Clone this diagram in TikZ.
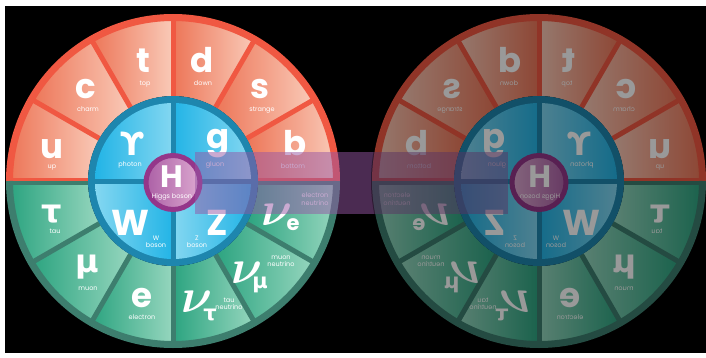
\RequirePackage{fix-cm}
\documentclass[tikz,border=0pt]{standalone}
\usepackage{fontspec}
\setmainfont{Poppins}
\newfontfamily\greekf{DejaVu Sans}
\usetikzlibrary{positioning}

\definecolor{quarkline}{RGB}{240,88,66}
\definecolor{quarkL}{RGB}{237,118,88}
\definecolor{quarkR}{RGB}{249,202,184}
\definecolor{leptonline}{RGB}{61,126,110}
\definecolor{leptonL}{RGB}{44,164,128}
\definecolor{leptonR}{RGB}{150,214,190}
\definecolor{bosonline}{RGB}{30,134,174}
\definecolor{bosonL}{RGB}{34,180,230}
\definecolor{bosonR}{RGB}{132,215,241}
\definecolor{higgsline}{RGB}{148,54,138}
\definecolor{higgsL}{RGB}{172,96,166}
\definecolor{higgsR}{RGB}{220,168,208}
\definecolor{barpurple}{RGB}{150,86,165}

\tikzset{
  quarkseg/.style={left color=quarkL, right color=quarkR},
  leptonseg/.style={left color=leptonL, right color=leptonR},
  bosonup/.style={left color=bosonL, right color=bosonR},
  bosondown/.style={left color=bosonR, right color=bosonL},
  higgs/.style={left color=higgsL, right color=higgsR, draw=higgsline, line width=5pt},
  quarkdiv/.style={draw=quarkline, line width=5pt},
  leptondiv/.style={draw=leptonline, line width=5pt},
  bosondiv/.style={draw=bosonline, line width=5pt},
  letter/.style={text=white, inner sep=0pt, anchor=base, text depth=0pt, font=\bfseries\fontsize{34}{34}\selectfont},
  greek/.style={text=white, inner sep=0pt, anchor=base, text depth=0pt, font=\greekf\bfseries\fontsize{32}{32}\selectfont},
  nu/.style={text=white, inner sep=0pt, font=\fontsize{48}{48}\selectfont\boldmath},
  nusub/.style={text=white, inner sep=0pt, font=\bfseries\fontsize{21}{21}\selectfont},
  partname/.style={text=white, inner sep=0pt, anchor=base, text depth=0pt, font=\fontsize{6.5}{7.5}\selectfont},
  partname2/.style={text=white, inner sep=0pt, align=center, font=\fontsize{6.5}{7.5}\selectfont}
}

\newcommand{\wheel}[1]{%
  % quarks (upper half) and leptons (lower half)
  \foreach \a in {0,30,...,150}
    \shade[quarkseg] (\a:85) -- (\a:163) arc[start angle=\a, end angle=\a+30, radius=163] -- ({\a+30}:85) arc[start angle=\a+30, end angle=\a, radius=85] -- cycle;
  \foreach \a in {180,210,...,330}
    \shade[leptonseg] (\a:85) -- (\a:163) arc[start angle=\a, end angle=\a+30, radius=163] -- ({\a+30}:85) arc[start angle=\a+30, end angle=\a, radius=85] -- cycle;
  \foreach \a in {30,60,...,150}
    \draw[quarkdiv] (\a:85) -- (\a:163);
  \foreach \a in {210,240,...,330}
    \draw[leptondiv] (\a:85) -- (\a:163);
  \draw[quarkdiv, line width=3pt] (-163,1.5) -- (163,1.5);
  \draw[leptondiv, line width=4pt] (-163,-2) -- (163,-2);
  \draw[quarkdiv, line width=7pt] (0:163.5) arc[start angle=0, end angle=180, radius=163.5];
  \draw[leptondiv, line width=7pt] (180:163.5) arc[start angle=180, end angle=360, radius=163.5];
  % gauge bosons
  \fill[bosonline] (0,0) circle[radius=85];
  \shade[bosonup] (0,0) -- (0:78) arc[start angle=0, end angle=90, radius=78] -- cycle;
  \shade[bosonup] (0,0) -- (90:78) arc[start angle=90, end angle=180, radius=78] -- cycle;
  \shade[bosondown] (0,0) -- (180:78) arc[start angle=180, end angle=270, radius=78] -- cycle;
  \shade[bosondown] (0,0) -- (270:78) arc[start angle=270, end angle=360, radius=78] -- cycle;
  \draw[bosondiv] (-80,0) -- (80,0) (0,-80) -- (0,80);
  % higgs
  \shadedraw[higgs] (0,-1.5) circle[radius=27];
  % labels
  \node[letter] (#1u) at (-121,23) {u};
  \node[partname] (#1up) at (-121,13) {up};
  \node[letter] (#1c) at (-87,83) {c};
  \node[partname] (#1charm) at (-85,70) {charm};
  \node[letter] (#1t) at (-30,108) {t};
  \node[partname] (#1top) at (-28,96) {top};
  \node[letter] (#1d) at (29,108) {d};
  \node[partname] (#1down) at (30,96) {down};
  \node[letter] (#1s) at (87,83) {s};
  \node[partname] (#1strange) at (89,70) {strange};
  \node[letter] (#1b) at (122,26) {b};
  \node[partname] (#1bottom) at (120,13) {bottom};
  \node[greek] (#1tau) at (-121,-41) {τ};
  \node[partname] (#1tauname) at (-118,-52) {tau};
  \node[greek] (#1mu) at (-86,-91) {μ};
  \node[partname] (#1muon) at (-85,-109) {muon};
  \node[letter] (#1e) at (-31,-126) {e};
  \node[partname] (#1electron) at (-31,-138) {electron};
  \node[nu] (#1nut) at (24,-121) {$\nu$};
  \node[nusub] (#1nutsub) at (37,-134) {\greekf τ};
  \node[partname2] (#1nutname) at (56,-123) {tau\\neutrino};
  \node[nu] (#1num) at (74,-92) {$\nu$};
  \node[nusub] (#1numsub) at (87,-104) {\greekf μ};
  \node[partname2] (#1numname) at (108,-80) {muon\\neutrino};
  \node[nu] (#1nue) at (104,-34) {$\nu$};
  \node[nusub] (#1nuesub) at (120,-44) {e};
  \node[partname2] (#1nuename) at (142,-18) {electron\\neutrino};
  \node[greek] (#1gamma) at (-41,26) {ϒ};
  \node[partname] (#1photon) at (-43,15) {photon};
  \node[letter] (#1g) at (45,33) {g};
  \node[partname] (#1gluon) at (42,15) {gluon};
  \node[letter, font=\bfseries\fontsize{31}{31}\selectfont] (#1H) at (-1,-6) {H};
  \node[partname] (#1higgs) at (-1,-17) {Higgs boson};
  \node[letter, font=\bfseries\fontsize{36}{36}\selectfont] (#1W) at (-43,-54) {W};
  \node[partname2] (#1wname) at (-17,-61) {W\\boson};
  \node[letter, font=\bfseries\fontsize{36}{36}\selectfont] (#1Z) at (44,-54) {Z};
  \node[partname2] (#1zname) at (24,-61) {Z\\boson};
}

\begin{document}
\begin{tikzpicture}[x=1pt, y=1pt]
\useasboundingbox (0,0) rectangle (706,357);
\fill[white] (0,0) rectangle (706,357);
\fill[black] (5,4) rectangle (706,351);
% the wheel
\begin{scope}[shift={(173,176)}]
  \wheel{L}
\end{scope}
% its mirror image
\begin{scope}[shift={(539,176)}, xscale=-1, transform shape,
  quarkseg/.style={left color=quarkR, right color=quarkL},
  leptonseg/.style={left color=leptonR, right color=leptonL},
  bosonup/.style={left color=bosonR, right color=bosonL},
  bosondown/.style={left color=bosonL, right color=bosonR},
  higgs/.style={left color=higgsR, right color=higgsL, draw=higgsline, line width=5pt}]
  \wheel{R}
\end{scope}
% band between the two
\fill[barpurple, opacity=0.5] (195,143) rectangle (508,205);
\fill[black, opacity=0.4] (539,176) circle[radius=168];
\end{tikzpicture}
\end{document}
